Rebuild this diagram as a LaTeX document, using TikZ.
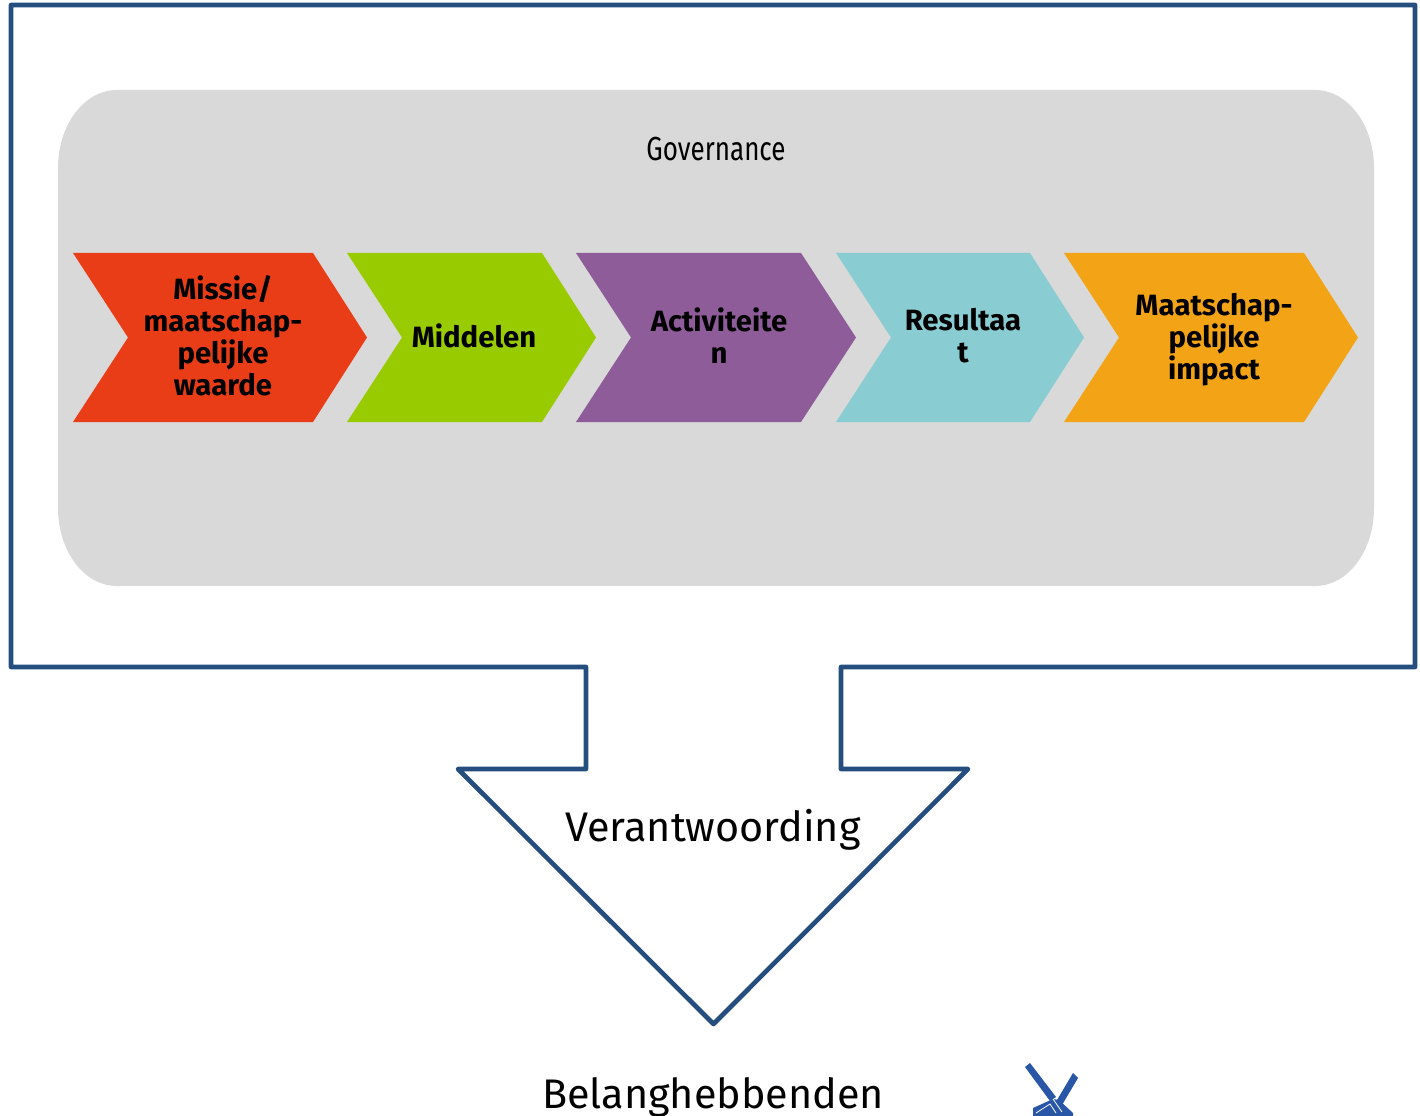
\documentclass[tikz,border=0pt]{standalone}
\usepackage{fontspec}
\setmainfont{Fira Sans}
\definecolor{frameblue}{HTML}{254E7F}
\definecolor{panelgrey}{HTML}{D9D9D9}
\definecolor{cred}{HTML}{E93D18}
\definecolor{cgreen}{HTML}{99CC00}
\definecolor{cpurple}{HTML}{8F5C9A}
\definecolor{cteal}{HTML}{89CCD1}
\definecolor{corange}{HTML}{F2A416}
\definecolor{millblue}{HTML}{2A56A8}
\tikzset{
  chevlabel/.style={font=\fontsize{22}{24}\selectfont\bfseries,align=center,text=black,inner sep=0pt},
  biglabel/.style={font=\fontsize{31}{36}\selectfont,text=black,inner sep=0pt},
}
\newcommand{\chev}[5]{% left x, right body x, tip x, colour
  \fill[#4] (#1,253) -- (#2,253) -- (#3,337.5) -- (#2,422) -- (#1,422) -- (#1+#5,337.5) -- cycle;}
\begin{document}
\begin{tikzpicture}[x=0.75pt,y=-0.75pt]
\useasboundingbox (0,0) rectangle (1420,1116);
\clip (0,0) rectangle (1420,1116);
\draw[frameblue,line width=3.5pt,line join=round]
  (11,5) -- (1415,5) -- (1415,667) -- (841,667) -- (841,769) -- (968,769)
  -- (713.5,1024) -- (458,769) -- (586,769) -- (586,667) -- (11,667) -- cycle;
\fill[panelgrey] (58,168) .. controls (58,125) and (84,90) .. (117,90)
  -- (1315,90) .. controls (1348,90) and (1374,125) .. (1374,168)
  -- (1374,508) .. controls (1374,551) and (1348,586) .. (1315,586)
  -- (117,586) .. controls (84,586) and (58,551) .. (58,508) -- cycle;
\chev{73}{313}{367}{cred}{55}
\chev{347}{542}{596}{cgreen}{55}
\chev{576}{801}{856}{cpurple}{55}
\chev{836}{1030}{1084}{cteal}{55}
\chev{1064}{1304}{1358}{corange}{55}
\node[font=\fontsize{25}{27}\selectfont,text=black,inner sep=0pt,xscale=0.78] (gov) at (716,149) {Governance};
\node[chevlabel] (missie) at (223,336) {Missie/\\maatschap-\\pelijke\\waarde};
\node[chevlabel] (middelen) at (474,336) {Middelen};
\node[chevlabel] (activ) at (719,336) {Activiteite\\n};
\node[chevlabel] (result) at (963,336) {Resultaa\\t};
\node[chevlabel] (impact) at (1214,340) {Maatschap-\\pelijke\\impact};
\node[biglabel] (verant) at (713,830) {Verantwoording};
\node[biglabel] (belang) at (713,1097) {Belanghebbenden};
% windmill
\fill[millblue] (1025,1067) -- (1030,1063) -- (1056,1097) -- (1050,1101) -- cycle;
\fill[millblue] (1073,1073) -- (1078,1078) -- (1062,1105) -- (1057,1100) -- cycle;
\fill[millblue] (1033,1108) -- (1053,1099) -- (1059,1100) -- (1073,1113) -- (1073,1116) -- (1033,1116) -- cycle;
\draw[white,line width=0.6pt] (1036,1113) -- (1050,1104) -- (1056,1113) (1053,1099) -- (1062,1112);
\end{tikzpicture}
\end{document}
